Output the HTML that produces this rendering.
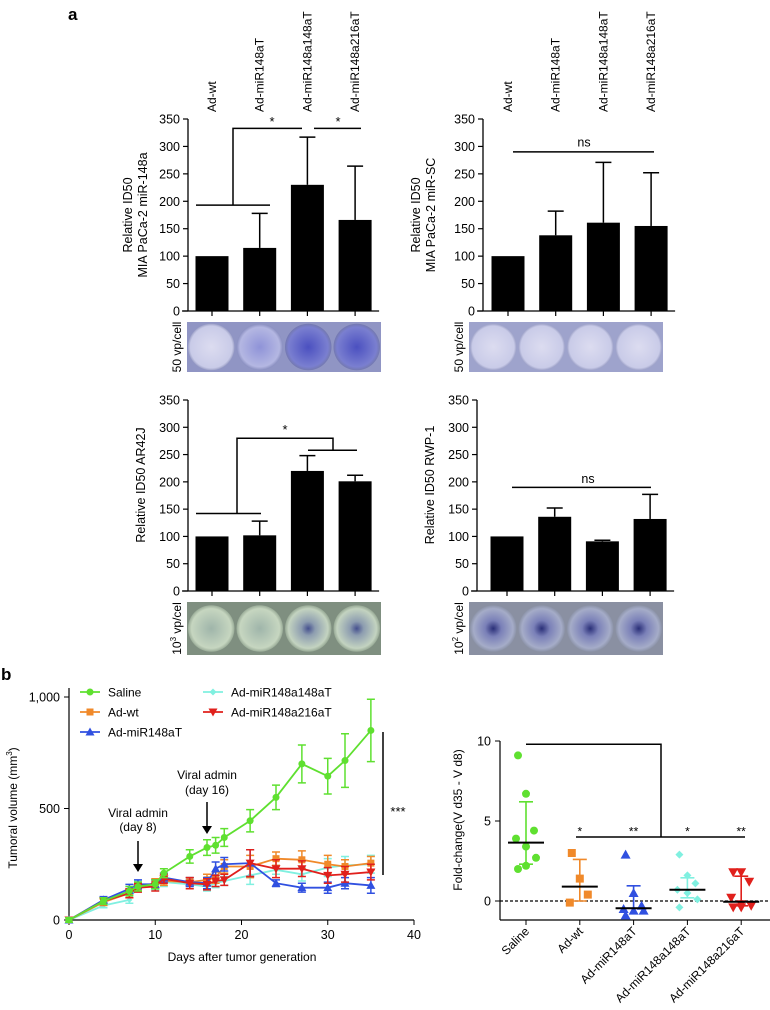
<!DOCTYPE html>
<html><head><meta charset="utf-8"><style>
html,body{margin:0;padding:0;background:#fff;}
svg{display:block;font-family:"Liberation Sans",Arial,sans-serif;}
</style></head><body>
<svg id="fig" width="770" height="1010" viewBox="0 0 770 1010" xmlns="http://www.w3.org/2000/svg">
<defs>
<radialGradient id="gBlueL" cx="50%" cy="50%" r="50%"><stop offset="0" stop-color="#dcdcf0"/><stop offset="0.9" stop-color="#c9cbe8"/><stop offset="1" stop-color="#9ea2c8"/></radialGradient>
<radialGradient id="gBlueM" cx="50%" cy="50%" r="50%"><stop offset="0" stop-color="#8f93d8"/><stop offset="0.85" stop-color="#b4b7e2"/><stop offset="1" stop-color="#8a8fc0"/></radialGradient>
<radialGradient id="gBlueD" cx="50%" cy="50%" r="50%"><stop offset="0" stop-color="#4b50c0"/><stop offset="0.85" stop-color="#7a7fd0"/><stop offset="1" stop-color="#7479b0"/></radialGradient>
<radialGradient id="gGreen" cx="50%" cy="50%" r="50%"><stop offset="0" stop-color="#9fb5aa"/><stop offset="0.85" stop-color="#c6d6c0"/><stop offset="1" stop-color="#9aac98"/></radialGradient>
<radialGradient id="gGreenD" cx="50%" cy="50%" r="50%"><stop offset="0" stop-color="#45508e"/><stop offset="0.3" stop-color="#8d9db0"/><stop offset="0.85" stop-color="#c3d3c0"/><stop offset="1" stop-color="#97a995"/></radialGradient>
<radialGradient id="gRwp" cx="50%" cy="50%" r="50%"><stop offset="0" stop-color="#2a2f78"/><stop offset="0.35" stop-color="#7a80b8"/><stop offset="0.85" stop-color="#a5acc8"/><stop offset="1" stop-color="#8c93a8"/></radialGradient>
</defs>
<g id="root"></g>
</svg>
<script>
// ---------- Panel a data ----------
const groups = ["Ad-wt","Ad-miR148aT","Ad-miR148a148aT","Ad-miR148a216aT"];
const miaVals = [100,115,230,166];
const miaErr  = [0,178,317,264];
const scVals  = [100,138,161,155];
const scErr   = [0,182,271,252];
const arVals  = [100,102,220,201];
const arErr   = [0,128,248,212];
const rwpVals = [100,136,91,132];
const rwpErr  = [0,152,93,177];
const barTicks = [0,50,100,150,200,250,300,350];

// ---------- Panel b line chart data ----------
const days = [0,4,7,8,10,11,14,16,17,18,21,24,27,30,32,35];
const salineV = [0,85,130,150,160,210,285,325,335,370,445,550,700,645,715,850];
const salineE = [10,15,20,20,20,20,30,35,35,40,50,55,85,80,120,140];
const adwtV = [0,80,120,150,165,175,170,180,190,240,240,275,270,250,240,255];
const adwtE = [10,15,20,20,20,20,20,25,25,30,50,30,40,40,30,30];
const m148V = [0,90,140,160,160,190,170,165,230,250,255,165,145,145,165,155];
const m148E = [10,15,20,20,20,20,20,25,30,30,60,15,20,25,25,35];
const m148148V = [0,65,90,155,155,170,160,150,165,175,200,225,205,235,245,250];
const m148148E = [10,10,15,20,20,20,20,20,20,20,40,20,30,40,40,40];
const m148216V = [0,85,120,145,150,185,165,160,175,180,255,230,230,200,205,215];
const m148216E = [10,15,20,20,20,20,25,25,25,25,60,40,35,35,35,35];
const lineXTicks = [0,10,20,30,40];
const lineYTicks = [0,500,1000];
const lineYTickLabels = ["0","500","1,000"];

// ---------- Panel b scatter data ----------
const scatCats = ["Saline","Ad-wt","Ad-miR148aT","Ad-miR148a148aT","Ad-miR148a216aT"];
const scatSaline = [9.1,6.7,4.4,3.9,3.4,2.7,2.0,2.2];
const scatAdwt = [3.0,1.4,0.4,-0.1];
const scat148 = [2.9,0.5,-0.3,-0.5,-0.6,-0.6,-0.9];
const scat148148 = [2.9,1.6,1.1,0.7,0.5,0.1,-0.4];
const scat148216 = [1.8,1.8,1.2,0.2,-0.2,-0.3,-0.4,-0.4];
const scatMean = [3.65,0.9,-0.45,0.7,-0.05];
const scatHi = [6.2,2.6,0.95,1.45,1.55];
const scatLo = [2.3,0.0,-0.45,0.2,-0.3];
const scatTicks = [0,5,10];

const NS="http://www.w3.org/2000/svg";
const root=document.getElementById('root');
function el(tag,attrs,parent,text){const e=document.createElementNS(NS,tag);for(const k in attrs)e.setAttribute(k,attrs[k]);if(text!==undefined)e.textContent=text;(parent||root).appendChild(e);return e;}
function grp(name,parent){const g=el('g',{},parent);


return g;}

// label a / b
const la=el('text',{x:68,y:20,'font-size':17,'font-weight':'bold'},root,'a');


const lb=el('text',{x:1,y:680,'font-size':17,'font-weight':'bold'},root,'b');



function barPanel(o){
  const g=grp(o.name);
  const y=v=>o.y0-(v/350)*(o.y0-o.y350);
  const bw=33, step=47.7;
  const cx=i=>o.c0+i*step;
  // y axis
  el('line',{x1:o.ax,y1:o.y350,x2:o.ax,y2:o.y0,stroke:'#000','stroke-width':1.3},g);
  el('line',{x1:o.ax-6,y1:o.y0,x2:o.c0+3*step+24,y2:o.y0,stroke:'#000','stroke-width':1.3},g);
  barTicks.forEach(t=>{
    el('line',{x1:o.ax-5,y1:y(t),x2:o.ax,y2:y(t),stroke:'#000','stroke-width':1.2},g);
    const tl=el('text',{x:o.ax-8,y:y(t)+4.5,'font-size':12.5,'text-anchor':'end'},g,String(t));
    
    
  });
  groups.forEach((n,i)=>{
    el('line',{x1:cx(i),y1:o.y0,x2:cx(i),y2:o.y0+5,stroke:'#000','stroke-width':1.2},g);
    const vals=o.vals, errs=o.errs;
    if(errs[i]>vals[i]){
      el('line',{x1:cx(i),y1:y(errs[i]),x2:cx(i),y2:y(vals[i]),stroke:'#000','stroke-width':1.5},g);
      el('line',{x1:cx(i)-8,y1:y(errs[i]),x2:cx(i)+8,y2:y(errs[i]),stroke:'#000','stroke-width':1.5},g);
    }
    const r=el('rect',{x:cx(i)-bw/2,y:y(vals[i]),width:bw,height:o.y0-y(vals[i]),fill:'#000'},g);
    
    
    if(o.topLabels){
      const t=el('text',{x:0,y:0,'font-size':12,transform:`translate(${cx(i)+4},112) rotate(-90)`},g,n);
      
      
    }
    // plate
    const pw=(o.pr-o.pl)/4;
    el('rect',{x:o.pl+i*pw,y:o.pt,width:pw,height:o.pb-o.pt,fill:o.plateBg},g);
    const c=el('circle',{cx:o.pl+i*pw+pw/2,cy:(o.pt+o.pb)/2,r:Math.min(pw,o.pb-o.pt)/2-1,fill:`url(#${o.fills[i]})`},g);
    
    
  });
  const yt=el('text',{'font-size':12.5,'text-anchor':'middle',transform:`translate(${o.tx},${o.ty}) rotate(-90)`},g);
  o.title.forEach((s,k)=>{el('tspan',{x:0,dy:k?15:0},yt,s);});
  
  
  const pl=el('text',{'font-size':12,'text-anchor':'middle',transform:`translate(${o.pl-6},${(o.pt+o.pb)/2}) rotate(-90)`},g);
  el('tspan',{},pl,o.plateLbl[0]);
  if(o.plateLbl[2]){el('tspan',{'font-size':8,dy:-5},pl,o.plateLbl[1]);el('tspan',{dy:5},pl,o.plateLbl[2]);}
  
  
  o.extra(g,y,cx);
}
function pth(g,d){el('path',{d:d,fill:'none',stroke:'#000','stroke-width':1.5},g);}
function star(g,x,yy,s){el('text',{x:x,y:yy,'font-size':13,'text-anchor':'middle'},g,s);}

barPanel({name:'chart-mia-148a',ax:188,c0:212,y0:311,y350:119,topLabels:true,vals:miaVals,errs:miaErr,
  pl:187,pr:381,pt:322,pb:372,plateBg:'#9095c4',fills:['gBlueL','gBlueM','gBlueD','gBlueD'],
  title:['Relative ID50','MIA PaCa-2 miR-148a'],tx:132,ty:215,plateLbl:['50 vp/cell'],
  extra:(g,y,cx)=>{pth(g,`M196 ${y(193)} H270 M233 ${y(193)} V${y(333)} H302`);pth(g,`M314 ${y(333)} H361`);star(g,272,y(337),'*');star(g,338,y(337),'*');}});
barPanel({name:'chart-mia-sc',ax:483,c0:508,y0:311,y350:119,topLabels:true,vals:scVals,errs:scErr,
  pl:469,pr:663,pt:322,pb:372,plateBg:'#9ea3cc',fills:['gBlueL','gBlueL','gBlueL','gBlueL'],
  title:['Relative ID50','MIA PaCa-2 miR-SC'],tx:420,ty:215,plateLbl:['50 vp/cell'],
  extra:(g,y,cx)=>{pth(g,`M513 ${y(290)} H654`);el('text',{x:584,y:y(300),'font-size':12.5,'text-anchor':'middle'},g,'ns');}});
barPanel({name:'chart-ar42j',ax:188,c0:212,y0:591,y350:400,topLabels:false,vals:arVals,errs:arErr,
  pl:187,pr:381,pt:602,pb:655,plateBg:'#7f8f80',fills:['gGreen','gGreen','gGreenD','gGreenD'],
  title:['Relative ID50 AR42J'],tx:145,ty:485,plateLbl:['10','3',' vp/cel'],
  extra:(g,y,cx)=>{pth(g,`M196 ${y(142)} H261 M237 ${y(142)} V${y(280)} H333 V${y(258)} M308 ${y(258)} H357`);star(g,285,y(288),'*');}});
barPanel({name:'chart-rwp1',ax:477,c0:507,y0:591,y350:400,topLabels:false,vals:rwpVals,errs:rwpErr,
  pl:469,pr:663,pt:602,pb:655,plateBg:'#8a90a2',fills:['gRwp','gRwp','gRwp','gRwp'],
  title:['Relative ID50 RWP-1'],tx:434,ty:485,plateLbl:['10','2',' vp/cel'],
  extra:(g,y,cx)=>{pth(g,`M512 ${y(190)} H651`);el('text',{x:588,y:y(198),'font-size':12.5,'text-anchor':'middle'},g,'ns');}});

// ---------- line chart ----------
(function(){
  const g=grp('tumor-volume-chart');
  const X=d=>69+d*(414-69)/40, Y=v=>920-v*(920-697)/1000;
  el('line',{x1:69,y1:688,x2:69,y2:920,stroke:'#000','stroke-width':1.2},g);
  el('line',{x1:69,y1:920,x2:414,y2:920,stroke:'#000','stroke-width':1.2},g);
  lineXTicks.forEach(t=>{el('line',{x1:X(t),y1:920,x2:X(t),y2:925,stroke:'#000'},g);
    el('text',{x:X(t),y:939,'font-size':12.5,'text-anchor':'middle'},g,String(t));});
  lineYTicks.forEach((t,i)=>{el('line',{x1:64,y1:Y(t),x2:69,y2:Y(t),stroke:'#000'},g);
    el('text',{x:60,y:Y(t)+4.5,'font-size':12.5,'text-anchor':'end'},g,lineYTickLabels[i]);});
  el('text',{x:242,y:961,'font-size':12,'text-anchor':'middle'},g,'Days after tumor generation');
  const yt=el('text',{'font-size':12,'text-anchor':'middle',transform:'translate(17,808) rotate(-90)'},g,'Tumoral volume (mm');
  el('tspan',{'font-size':8,dy:-5},yt,'3');el('tspan',{dy:5},yt,')');
  const series=[
    ['saline',salineV,salineE,'#5fe030','circle','Saline',80,692],
    ['ad-wt',adwtV,adwtE,'#f0892a','square','Ad-wt',80,712],
    ['ad-mir148at',m148V,m148E,'#3050e0','tri','Ad-miR148aT',80,732],
    ['ad-mir148a148at',m148148V,m148148E,'#80f0e0','diamond','Ad-miR148a148aT',203,692],
    ['ad-mir148a216at',m148216V,m148216E,'#e0201c','tridown','Ad-miR148a216aT',203,712]];
  function marker(gg,shape,x,y,c,s){
    if(shape==='circle')el('circle',{cx:x,cy:y,r:s,fill:c},gg);
    else if(shape==='square')el('rect',{x:x-s,y:y-s,width:2*s,height:2*s,fill:c},gg);
    else if(shape==='tri')el('polygon',{points:`${x},${y-s-1} ${x-s-1},${y+s} ${x+s+1},${y+s}`,fill:c},gg);
    else if(shape==='tridown')el('polygon',{points:`${x},${y+s+1} ${x-s-1},${y-s} ${x+s+1},${y-s}`,fill:c},gg);
    else el('polygon',{points:`${x},${y-s} ${x-s},${y} ${x},${y+s} ${x+s},${y}`,fill:c},gg);
  }
  // draw order: cyan, orange, blue, red, green
  [3,1,2,4,0].forEach(si=>{
    const [id,v,e,c,sh,lab,lx,ly]=series[si];
    const sg=grp('series-'+id,g);
    el('polyline',{points:days.map((d,i)=>X(d)+','+Y(v[i])).join(' '),fill:'none',stroke:c,'stroke-width':1.8},sg);
    days.forEach((d,i)=>{
      el('path',{d:`M${X(d)} ${Y(v[i]-e[i])} V${Y(v[i]+e[i])} M${X(d)-4} ${Y(v[i]-e[i])} h8 M${X(d)-4} ${Y(v[i]+e[i])} h8`,stroke:c,'stroke-width':1.5,fill:'none'},sg);
      marker(sg,sh,X(d),Y(v[i]),c,sh==='diamond'?3:3.5);
    });
    const lg=grp('legend-entry',g);
    el('line',{x1:lx,y1:ly,x2:lx+20,y2:ly,stroke:c,'stroke-width':1.8},lg);
    marker(lg,sh,lx+10,ly,c,3.5);
    el('text',{x:lx+28,y:ly+4.5,'font-size':12},lg,lab);
  });
  // annotations
  el('text',{x:138,y:817,'font-size':12,'text-anchor':'middle'},g,'Viral admin');
  el('text',{x:138,y:831,'font-size':12,'text-anchor':'middle'},g,'(day 8)');
  el('path',{d:'M138 841 V866',stroke:'#000','stroke-width':1.5},g);
  el('polygon',{points:'133,864 143,864 138,872',fill:'#000'},g);
  el('text',{x:207,y:779,'font-size':12,'text-anchor':'middle'},g,'Viral admin');
  el('text',{x:207,y:794,'font-size':12,'text-anchor':'middle'},g,'(day 16)');
  el('path',{d:'M207 802 V828',stroke:'#000','stroke-width':1.5},g);
  el('polygon',{points:'202,826 212,826 207,834',fill:'#000'},g);
  el('line',{x1:383,y1:732,x2:383,y2:875,stroke:'#000','stroke-width':1.5},g);
  el('text',{x:398,y:816,'font-size':13,'text-anchor':'middle'},g,'***');
})();

// ---------- scatter ----------
(function(){
  const g=grp('fold-change-chart');
  const X=i=>526+i*53.8, Y=v=>901-v*16;
  el('line',{x1:500,y1:741,x2:500,y2:920,stroke:'#000','stroke-width':1.2},g);
  el('line',{x1:500,y1:920,x2:770,y2:920,stroke:'#000','stroke-width':1.2},g);
  scatTicks.forEach(t=>{el('line',{x1:495,y1:Y(t),x2:500,y2:Y(t),stroke:'#000'},g);
    el('text',{x:491,y:Y(t)+4.5,'font-size':12.5,'text-anchor':'end'},g,String(t));});
  el('line',{x1:500,y1:Y(0),x2:770,y2:Y(0),stroke:'#000','stroke-width':1.3,'stroke-dasharray':'3,2'},g);
  el('text',{'font-size':12,'text-anchor':'middle',transform:'translate(462,820) rotate(-90)'},g,'Fold-change(V d35 - V d8)');
  const sets=[scatSaline,scatAdwt,scat148,scat148148,scat148216];
  const cols=['#5fe030','#f0892a','#3050e0','#80f0e0','#e0201c'];
  const shapes=['circle','square','tri','diamond','tridown'];
  scatCats.forEach((c,i)=>{
    const cg=grp('group-'+c.toLowerCase(),g);
    el('line',{x1:X(i),y1:920,x2:X(i),y2:925,stroke:'#000'},cg);
    el('text',{'font-size':12,'text-anchor':'end',transform:`translate(${X(i)+4},932) rotate(-45)`},cg,c);
    const col=cols[i];
    el('path',{d:`M${X(i)} ${Y(scatLo[i])} V${Y(scatHi[i])} M${X(i)-7} ${Y(scatHi[i])} h14 M${X(i)-7} ${Y(scatLo[i])} h14`,stroke:col,'stroke-width':1.6,fill:'none'},cg);
    sets[i].forEach((v,k)=>{
      const dx=((k%3)-1)*10*((k%2)?1:0.8);
      const x=X(i)+dx, y=Y(v), s=4;
      const sh=shapes[i];
      if(sh==='circle')el('circle',{cx:x,cy:y,r:s,fill:col},cg);
      else if(sh==='square')el('rect',{x:x-s,y:y-s,width:2*s,height:2*s,fill:col},cg);
      else if(sh==='tri')el('polygon',{points:`${x},${y-s-1} ${x-s-1},${y+s} ${x+s+1},${y+s}`,fill:col},cg);
      else if(sh==='tridown')el('polygon',{points:`${x},${y+s+1} ${x-s-1},${y-s} ${x+s+1},${y-s}`,fill:col},cg);
      else el('polygon',{points:`${x},${y-s} ${x-s},${y} ${x},${y+s} ${x+s},${y}`,fill:col},cg);
    });
    el('line',{x1:X(i)-18,y1:Y(scatMean[i]),x2:X(i)+18,y2:Y(scatMean[i]),stroke:'#000','stroke-width':2},cg);
  });
  el('path',{d:`M${X(0)} ${Y(9.8)} H661 V${Y(4.0)} M576 ${Y(4.0)} H745`,stroke:'#000','stroke-width':1.5,fill:'none'},g);
  ['*','**','*','**'].forEach((s,k)=>el('text',{x:X(k+1),y:Y(4.1),'font-size':12,'text-anchor':'middle'},g,s));
})();
</script>
</body></html>
